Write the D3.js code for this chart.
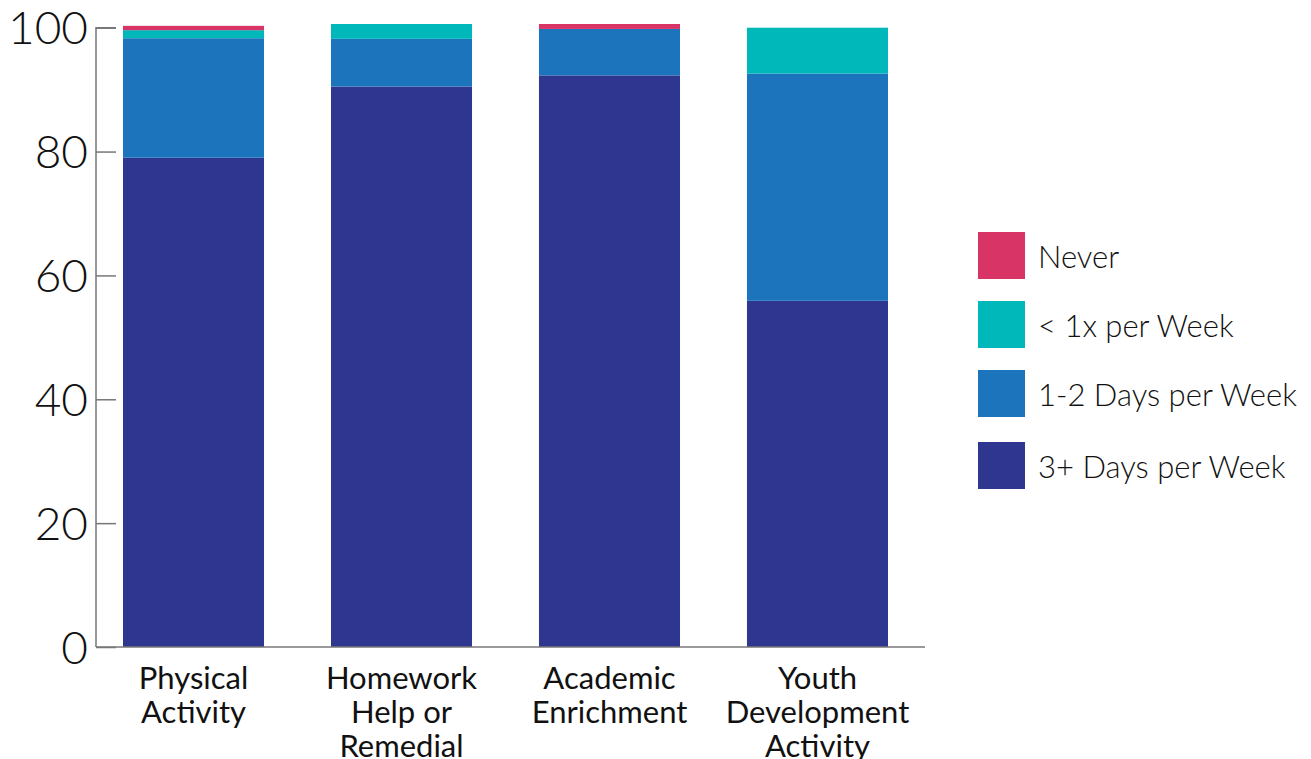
<!DOCTYPE html>
<html><head><meta charset="utf-8">
<script src="https://cdn.jsdelivr.net/npm/d3@7"></script>
<style>body{margin:0;background:#fff;} svg{display:block;}</style>
</head><body>
<svg id="chart" width="1311" height="759"></svg>
<script>
const categories = [["Physical","Activity"],["Homework","Help or","Remedial"],["Academic","Enrichment"],["Youth","Development","Activity"]];
const seriesNames = ["3+ Days per Week","1-2 Days per Week","< 1x per Week","Never"];
const days3 = [79.0, 90.5, 92.3, 55.9];
const days12 = [19.3, 7.7, 7.5, 36.7];
const lessWeekly = [1.3, 2.4, 0, 7.4];
const never = [0.7, 0, 0.8, 0];
const yTicks = [0,20,40,60,80,100];
const colors = ["#2E3690","#1C75BC","#00B7BA","#D83466"];

const svg = d3.select("#chart");
const x0 = 96, x1 = 925, yTop = 27.7, yBot = 647;
const y = d3.scaleLinear().domain([0,100]).range([yBot, yTop]);
const x = d3.scaleBand().domain(d3.range(categories.length)).range([123, 888]).paddingInner(0.322).paddingOuter(0);

const rows = categories.map((c,i)=>({i, "3+ Days per Week":days3[i], "1-2 Days per Week":days12[i], "< 1x per Week":lessWeekly[i], "Never":never[i]}));
const stack = d3.stack().keys(seriesNames)(rows);

svg.append("g").selectAll("g").data(stack).join("g")
  .attr("fill",(d,k)=>colors[k])
  .selectAll("rect").data(d=>d).join("rect")
  .attr("x",d=>x(d.data.i)).attr("width",x.bandwidth())
  .attr("y",d=>y(d[1])).attr("height",d=>Math.max(0,y(d[0])-y(d[1])));

// y axis
const ya = svg.append("g").attr("transform",`translate(${x0},0)`)
  .call(d3.axisRight(y).tickValues(yTicks).tickSize(20).tickFormat(""));
ya.selectAll("path,line").attr("stroke","#777").attr("stroke-width",1.5);
ya.select(".domain").attr("d",`M20,${yTop}H0V${yBot}`);
svg.append("g").selectAll("text").data(yTicks).join("text")
  .attr("x",88).attr("y",d=>y(d)).attr("dy","0.36em")
  .attr("text-anchor","end")
  .style("font-family","Lato").style("font-weight",300).style("font-size","46px").attr("fill","#111")
  .text(d=>d);

// x axis line
svg.append("line").attr("x1",x0).attr("x2",x1).attr("y1",yBot).attr("y2",yBot).attr("stroke","#777").attr("stroke-width",1.5);

// category labels
const cl = svg.append("g").selectAll("text").data(categories).join("text")
  .attr("text-anchor","middle")
  .attr("transform",(d,i)=>`translate(${x(i)+x.bandwidth()/2},689)`)
  .style("font-family","Lato").style("font-size","31px").attr("fill","#111");
cl.selectAll("tspan").data(d=>d).join("tspan").attr("x",0).attr("dy",(d,j)=>j===0?0:34).text(d=>d);

// legend
const legendItems = ["Never","< 1x per Week","1-2 Days per Week","3+ Days per Week"];
const legendColors = ["#D83466","#00B7BA","#1C75BC","#2E3690"];
const legendY = [232, 301, 370, 442];
const lg = svg.append("g").selectAll("g").data(legendItems).join("g")
  .attr("transform",(d,i)=>`translate(978,${legendY[i]})`);
lg.append("rect").attr("width",47).attr("height",47).attr("fill",(d,i)=>legendColors[i]);
lg.append("text").attr("x",60).attr("y",25).attr("dy","0.36em")
  .style("font-family","Lato").style("font-weight",300).style("font-size","31px").attr("fill","#111")
  .text(d=>d);
</script>
</body></html>
